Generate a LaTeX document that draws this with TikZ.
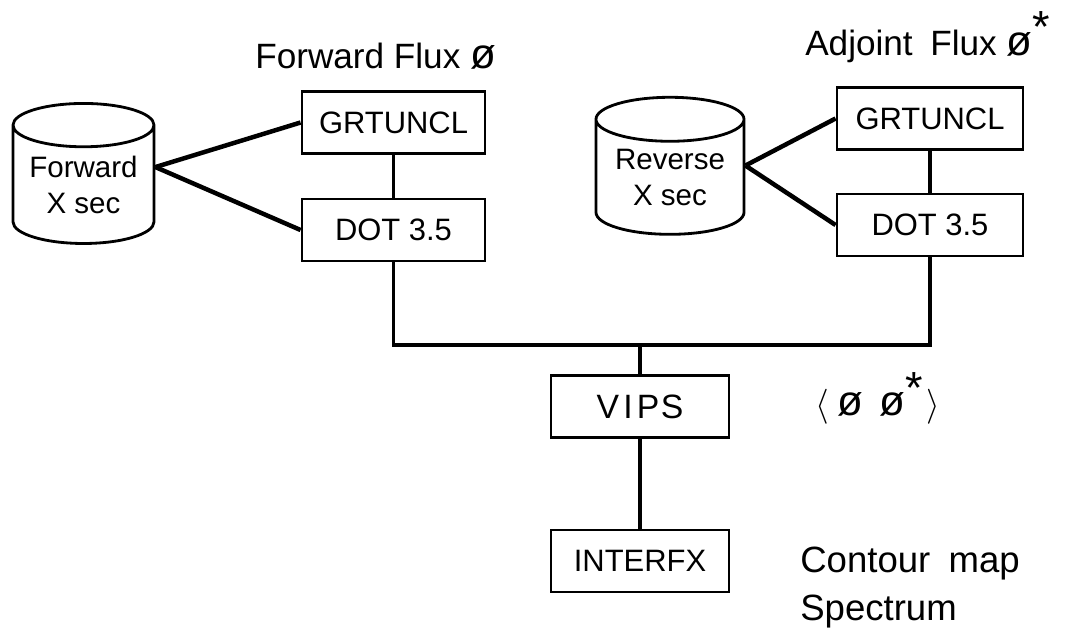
\documentclass[tikz,border=0pt]{standalone}
\usepackage{fontspec}
\setmainfont{Liberation Sans}
\usepackage{tikz}
\usetikzlibrary{shapes.geometric, positioning}
\newcommand{\fluxsym}{{\fontsize{30}{30}\selectfont ø}}
\newcommand{\adjstar}{\raisebox{0.35em}{\fontsize{32}{32}\selectfont *}}
\tikzset{
    prog box/.style={
        rectangle,
        draw,
        line width=2pt,
        minimum width=4.6cm,
        minimum height=1.55cm,
        inner sep=0pt,
        font=\fontsize{22}{26}\selectfont
    },
    xsec store/.style={
        cylinder,
        shape border rotate=90,
        draw,
        line width=2pt,
        aspect=0.4,
        inner sep=0pt,
        align=center,
        font=\fontsize{21}{25}\selectfont
    },
    link/.style={
        line width=2.6pt
    },
    feed link/.style={
        line width=3.2pt
    },
    title text/.style={
        inner sep=0pt,
        font=\fontsize{25}{30}\selectfont
    }
}

\begin{document}
\begin{tikzpicture}[x=0.025cm, y=-0.025cm]
\useasboundingbox (0,0) rectangle (1070,632);

% === FORWARD BRANCH ===
\node[title text, anchor=base west] (fwd_title) at (255,68) {Forward Flux \fluxsym};

\node[xsec store, minimum width=3.525cm, minimum height=3.5cm] (fwd_xsec) at (83.5,185) {Forward\\X sec};

\node[prog box, minimum width=4.575cm] (fwd_grt) at (393.5,122.5) {GRTUNCL};
\node[prog box, minimum width=4.575cm] (fwd_dot) at (393.5,230) {DOT 3.5};

% === ADJOINT BRANCH ===
\node[title text, anchor=base west] (adj_title) at (805,55) {Adjoint\enspace Flux \fluxsym\adjstar};

\node[xsec store, minimum width=3.7cm, minimum height=3.425cm] (rev_xsec) at (670,177.5) {Reverse\\X sec};

\node[prog box, minimum width=4.65cm] (adj_grt) at (930,118.5) {GRTUNCL};
\node[prog box, minimum width=4.65cm] (adj_dot) at (930,225) {DOT 3.5};

% === MERGE ===
\coordinate (bus) at (640,345);

\node[prog box, minimum width=4.45cm, font=\fontsize{24}{28}\selectfont] (vips) at (640,406.5) {V\kern3pt I\kern3pt P\kern1pt S};
\node[prog box, minimum width=4.45cm] (interfx) at (640,561) {INTERFX};

% === CONNECTIONS ===
\draw[feed link] (fwd_xsec.14) -- (fwd_grt.west);
\draw[feed link] (fwd_xsec.14) -- (fwd_dot.west);
\draw[link] (fwd_grt) -- (fwd_dot);

\draw[feed link] (rev_xsec.9) -- (adj_grt.west);
\draw[feed link] (rev_xsec.9) -- (adj_dot.west);
\draw[link] (adj_grt) -- (adj_dot);

\draw[link] (fwd_dot) |- (bus) -| (adj_dot);
\draw[link] (bus) -- (vips);
\draw[link] (vips) -- (interfx);

% === ANNOTATIONS ===
\node[title text, anchor=base west, font=\fontsize{24}{28}\selectfont] (inner_prod) at (815,415)
    {$\langle$\kern6pt\fluxsym\enspace\fluxsym\adjstar\kern2pt$\rangle$};

\node[title text, anchor=base west, align=left, font=\fontsize{26}{34}\selectfont] (outputs) at (800,620)
    {Contour\enspace map\\Spectrum};

\end{tikzpicture}
\end{document}
